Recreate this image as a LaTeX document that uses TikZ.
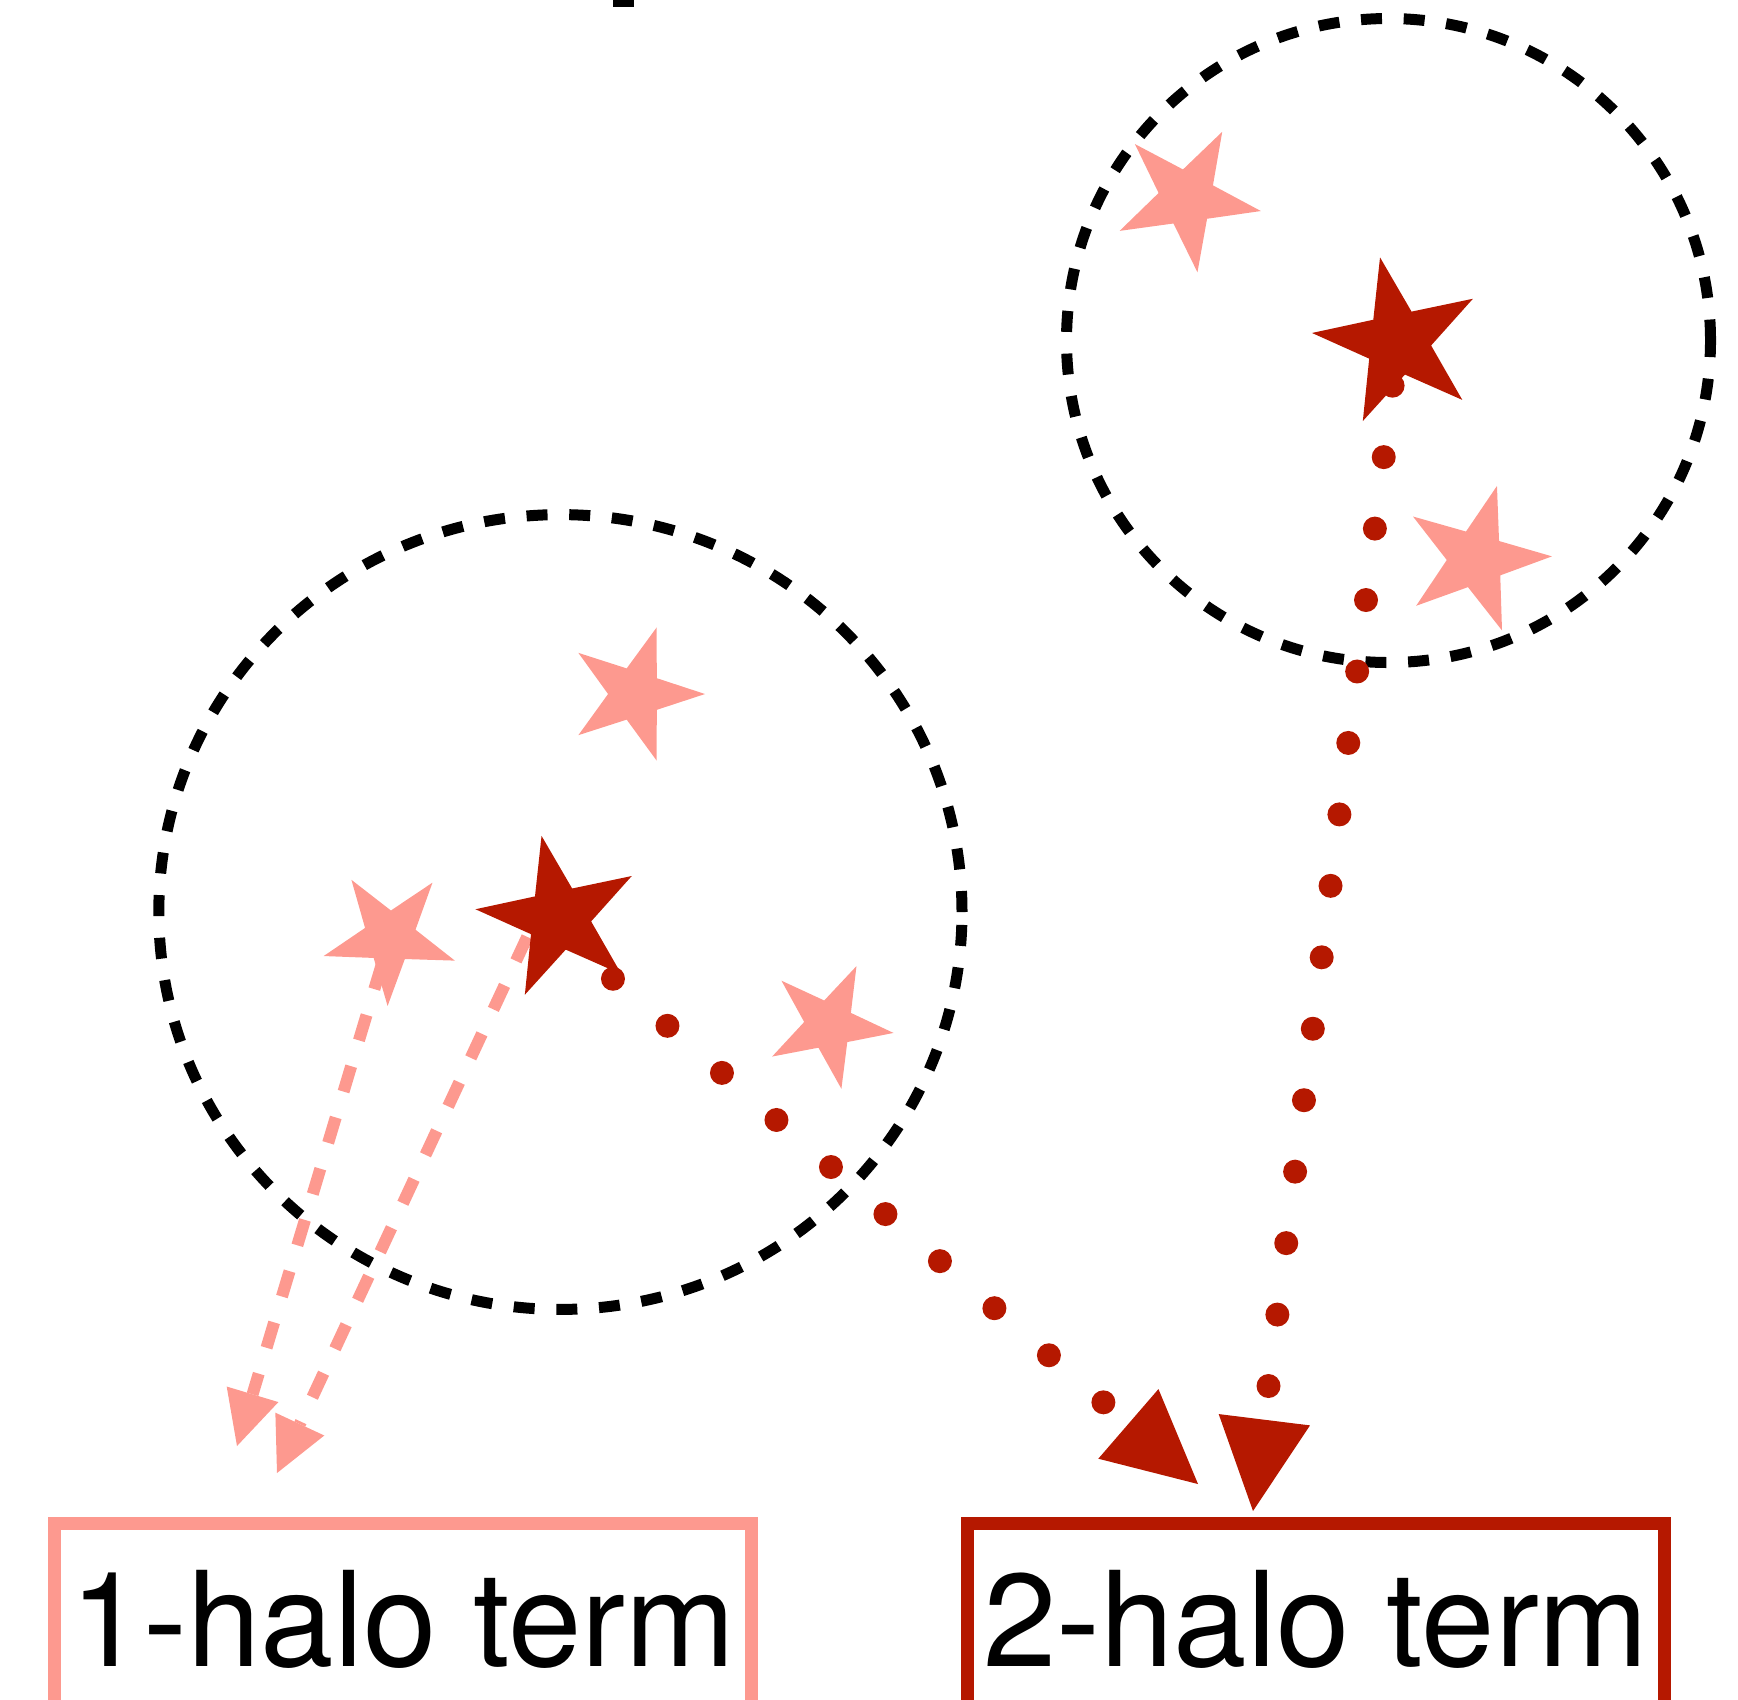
\documentclass[tikz,border=0pt]{standalone}
\usepackage{fontspec}
\setmainfont{TeX Gyre Heros}
\usetikzlibrary{shapes.geometric,arrows.meta}
\definecolor{pinkc}{RGB}{253,153,143}
\definecolor{redc}{RGB}{181,24,0}
\pgfdeclarelayer{bg}
\pgfsetlayers{bg,main}
\begin{document}
\begin{tikzpicture}[x=0.5pt,y=-0.5pt,
  halo/.style={draw=black, line width=5.5pt, dash pattern=on 10.5pt off 10.85pt},
  galstar/.style={star, star points=5, star point ratio=2.6, inner sep=0pt, outer sep=0pt, draw=none},
  sat/.style={galstar, fill=pinkc},
  cen/.style={galstar, fill=redc},
  onehalo/.style={draw=pinkc, line width=6pt, dash pattern=on 13.25pt off 13.5pt,
    -{Triangle[length=27pt,width=27pt,line width=0pt]}},
  twohalo/.style={draw=redc, line width=12pt, line cap=round, dash pattern=on 0pt off 36pt,
    -{Triangle[length=46pt,width=46pt,line width=0pt]}},
  termbox/.style={draw, line width=6.5pt, outer sep=0pt, minimum width=348.5pt, anchor=north,
    text height=48pt, text depth=40pt, inner ysep=23.25pt, inner xsep=0pt,
    font=\fontsize{66pt}{70pt}\selectfont}
]
\useasboundingbox (0,0) rectangle (1738,1699);

% stars
\node[sat, minimum size=70pt, shape border rotate=-90] (P1) at (635,694) {};
\node[sat, minimum size=69pt, shape border rotate=-38] (P2) at (390,937) {};
\node[cen, minimum size=84pt, shape border rotate=12] (D1) at (559,918) {};
\node[sat, minimum size=65pt, shape border rotate=-25] (P3) at (829,1025) {};
\node[sat, minimum size=75pt, shape border rotate=-28] (P4) at (1187,198) {};
\node[cen, minimum size=86.5pt, shape border rotate=12] (D2) at (1398,342) {};
\node[sat, minimum size=76pt, shape border rotate=-16] (P5) at (1476,559) {};

% boxes
\node[termbox, draw=pinkc] (box1) at (403,1523.5) {1-halo term};
\node[termbox, draw=redc] (box2) at (1316,1523.5) {2-halo term};

% connector ends
\coordinate (t1) at (237,1446);
\coordinate (t2) at (277,1473);
\coordinate (t3) at (1198,1484);
\coordinate (t4) at (1253,1511);
\coordinate (o2) at (536,918);
\coordinate (o3) at (560,933);

\begin{pgfonlayer}{bg}
  \fill (613,0) rectangle (634,6.5);
  \draw[halo] (560.4,912) ellipse [x radius=200.8pt, y radius=198.7pt];
  \draw[halo] (1388.5,340.5) ellipse [x radius=161pt, y radius=161pt];
  \draw[onehalo, dash phase=12.8pt] (P2.center) -- (t1);
  \draw[onehalo, dash phase=16.35pt] (o2) -- (t2);
  \draw[twohalo, dash phase=1pt] (o3) -- (t3);
  \draw[twohalo, dash phase=14pt] (D2.center) -- (t4);
\end{pgfonlayer}
\end{tikzpicture}
\end{document}
